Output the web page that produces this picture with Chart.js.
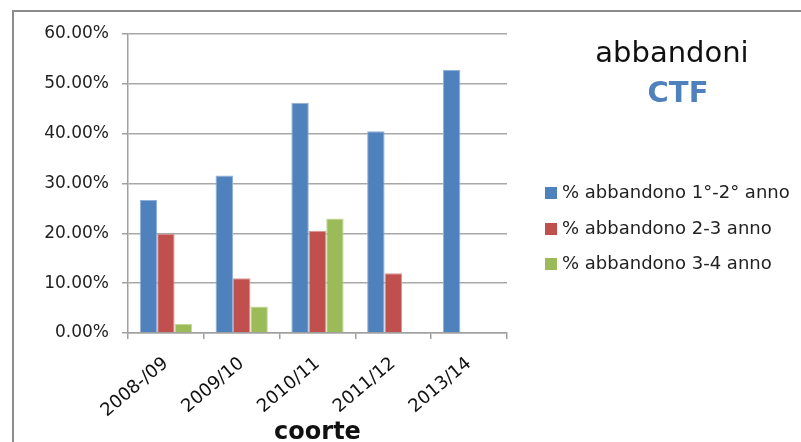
<!DOCTYPE html>
<html>
<head>
<meta charset="utf-8">
<script src="https://cdn.jsdelivr.net/npm/chart.js@4"></script>
<style>
  html, body { margin: 0; padding: 0; background: #fff; overflow: hidden; }
  #wrap { position: relative; width: 801px; height: 442px; overflow: hidden; font-family: "DejaVu Sans", sans-serif; }
  #frame { position: absolute; left: 12px; top: 10px; width: 1000px; height: 600px; border-left: 2px solid #8c8c8c; border-top: 2px solid #8c8c8c; }
  #chart { position: absolute; left: 0; top: 0; }
  #title { position: absolute; left: 560px; width: 224px; top: 32px; text-align: center; color: #111; }
  #title .t1 { font-size: 29px; line-height: 40px; padding-left: 0px; }
  #title .t2 { font-size: 29px; line-height: 40px; font-weight: bold; color: #4F81BD; padding-left: 12px; }
  #legend { position: absolute; left: 545px; top: 178px; font-size: 18px; color: #222; }
  #legend div { height: 35.5px; line-height: 28px; white-space: nowrap; }
  #legend span.box { display: inline-block; width: 12px; height: 12px; margin-right: 5px; vertical-align: -1px; }
</style>
</head>
<body>
<div id="wrap">
  <div id="frame"></div>
  <canvas id="chart" width="801" height="442"></canvas>
  <div id="title"><div class="t1">abbandoni</div><div class="t2">CTF</div></div>
  <div id="legend"></div>
</div>
<script>
  const cohorts = ['2008-/09', '2009/10', '2010/11', '2011/12', '2013/14'];
  const abb12 = [26.7, 31.6, 46.2, 40.5, 52.8];
  const abb23 = [19.9, 11.0, 20.5, 12.0, null];
  const abb34 = [1.8, 5.3, 23.0, null, null];
  const seriesNames = ['% abbandono 1°-2° anno', '% abbandono 2-3 anno', '% abbandono 3-4 anno'];
  const colors = ['#4F81BD', '#C0504D', '#9BBB59'];
  const edges = ['#8fb0d8', '#dc9694', '#c3d89a'];

  const FONT = '"DejaVu Sans", sans-serif';

  const datasets = [abb12, abb23, abb34].map((d, i) => ({
    label: seriesNames[i],
    data: d,
    backgroundColor: colors[i],
    borderColor: edges[i],
    borderWidth: { top: 1, left: 1, right: 1, bottom: 0 },
    categoryPercentage: 0.69,
    barPercentage: 1.0
  }));

  const chart = new Chart(document.getElementById('chart'), {
    type: 'bar',
    data: { labels: cohorts, datasets: datasets },
    options: {
      responsive: false,
      animation: false,
      layout: { padding: { left: 0, top: 34, right: 294, bottom: 0 } },
      plugins: { legend: { display: false }, tooltip: { enabled: false } },
      scales: {
        y: {
          min: 0, max: 60,
          ticks: {
            stepSize: 10,
            padding: 13,
            color: '#222',
            font: { family: FONT, size: 17 },
            callback: v => v.toFixed(2) + '%'
          },
          grid: { color: '#a8a8a8', lineWidth: 1.5, tickLength: 6, tickColor: '#a0a0a0' },
          border: { color: '#a0a0a0', width: 1.5 },
          afterFit: s => { s.width = 128; }
        },
        x: {
          ticks: {
            minRotation: 40, maxRotation: 40,
            padding: 14,
            color: '#111',
            font: { family: FONT, size: 18 }
          },
          grid: { drawOnChartArea: false, tickLength: 6, color: '#a0a0a0', lineWidth: 1.5 },
          border: { color: '#a0a0a0', width: 1.5 },
          title: {
            display: true,
            text: 'coorte',
            color: '#111',
            font: { family: FONT, size: 24, weight: 'bold' },
            padding: { top: 0, bottom: -5 }
          },
          afterFit: s => { s.height = 109; }
        }
      }
    }
  });

  const legend = document.getElementById('legend');
  chart.data.datasets.forEach(ds => {
    const row = document.createElement('div');
    const box = document.createElement('span');
    box.className = 'box';
    box.style.background = ds.backgroundColor;
    row.appendChild(box);
    row.appendChild(document.createTextNode(ds.label));
    legend.appendChild(row);
  });
</script>
</body>
</html>
